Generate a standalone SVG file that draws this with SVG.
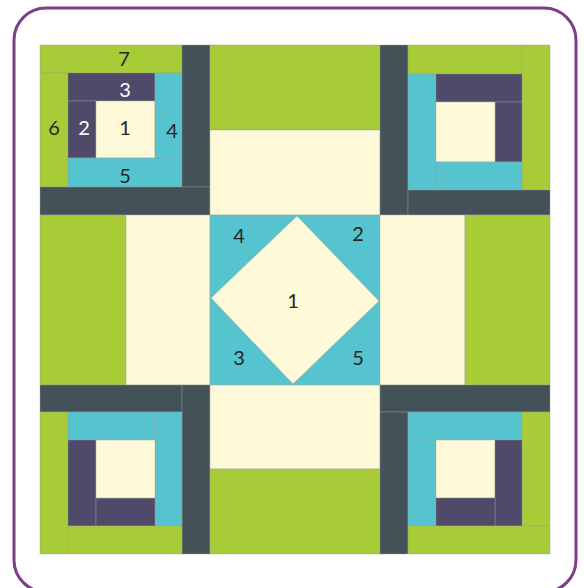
<svg xmlns="http://www.w3.org/2000/svg" width="584" height="588" viewBox="0 0 584 588">
<style>
.g{fill:#a7cc38}
.d{fill:#435159}
.c{fill:#55c4cf}
.p{fill:#4f4a69}
.k{fill:#fef9d8}
.g,.d,.c,.p,.k{stroke:#9aa08e;stroke-width:0.6;stroke-opacity:0.7}
.frame{fill:#ffffff;stroke:#7b3f85;stroke-width:3}
text{font-family:Lato,"Open Sans","Liberation Sans",sans-serif;font-size:20px;text-anchor:middle;dominant-baseline:central;fill:#262626}
text.w{fill:#ffffff}
</style>
<rect id="frame" class="frame" x="14" y="8" width="562" height="584" rx="32"/>
<g id="top-left">
<rect class="g" x="40" y="45" width="142" height="28"/>
<rect class="g" x="40" y="73" width="28" height="114"/>
<rect class="p" x="68" y="73" width="87" height="28"/>
<rect class="p" x="68" y="101" width="28" height="57"/>
<rect class="k" x="96" y="101" width="59" height="57"/>
<rect class="c" x="155" y="73" width="27" height="85"/>
<rect class="c" x="68" y="158" width="114" height="29"/>
<rect class="d" x="182" y="45" width="28" height="142"/>
<rect class="d" x="40" y="187" width="170" height="28"/>
<text x="124" y="58">7</text>
<text class="w" x="125" y="89">3</text>
<text x="54" y="127">6</text>
<text class="w" x="84" y="127">2</text>
<text x="125" y="127">1</text>
<text x="172" y="130">4</text>
<text x="125" y="175">5</text>
</g>
<g id="top-middle">
<rect class="g" x="210" y="45" width="170" height="85"/>
<rect class="k" x="210" y="130" width="170" height="85"/>
</g>
<g id="top-right">
<rect class="d" x="380" y="45" width="28" height="170"/>
<rect class="g" x="408" y="45" width="114" height="29"/>
<rect class="g" x="522" y="45" width="28" height="145"/>
<rect class="c" x="408" y="74" width="28" height="116"/>
<rect class="p" x="436" y="74" width="86" height="28"/>
<rect class="p" x="495" y="102" width="27" height="60"/>
<rect class="k" x="436" y="102" width="59" height="60"/>
<rect class="c" x="436" y="162" width="86" height="28"/>
<rect class="d" x="408" y="190" width="142" height="25"/>
</g>
<g id="middle-left">
<rect class="g" x="40" y="215" width="86" height="170"/>
<rect class="k" x="126" y="215" width="84" height="170"/>
</g>
<g id="center">
<rect class="c" x="210" y="215" width="170" height="170"/>
<polygon class="k" points="297,216 379,301 293,384 211,298"/>
<text x="239" y="235">4</text>
<text x="358" y="233">2</text>
<text x="293" y="300">1</text>
<text x="239" y="357">3</text>
<text x="358" y="357">5</text>
</g>
<g id="middle-right">
<rect class="k" x="380" y="215" width="85" height="170"/>
<rect class="g" x="465" y="215" width="85" height="170"/>
</g>
<g id="bottom-left">
<rect class="d" x="40" y="385" width="142" height="27"/>
<rect class="d" x="182" y="385" width="28" height="169"/>
<rect class="g" x="40" y="412" width="28" height="142"/>
<rect class="c" x="68" y="412" width="87" height="28"/>
<rect class="c" x="155" y="412" width="27" height="114"/>
<rect class="p" x="68" y="440" width="28" height="86"/>
<rect class="p" x="96" y="498" width="59" height="28"/>
<rect class="k" x="96" y="440" width="59" height="58"/>
<rect class="g" x="68" y="526" width="114" height="28"/>
</g>
<g id="bottom-middle">
<rect class="k" x="210" y="385" width="170" height="84"/>
<rect class="g" x="210" y="469" width="170" height="85"/>
</g>
<g id="bottom-right">
<rect class="d" x="380" y="385" width="170" height="27"/>
<rect class="d" x="380" y="412" width="28" height="142"/>
<rect class="c" x="408" y="412" width="114" height="28"/>
<rect class="g" x="522" y="412" width="28" height="114"/>
<rect class="c" x="408" y="440" width="28" height="86"/>
<rect class="k" x="436" y="440" width="59" height="58"/>
<rect class="p" x="495" y="440" width="27" height="86"/>
<rect class="p" x="436" y="498" width="59" height="28"/>
<rect class="g" x="408" y="526" width="142" height="28"/>
</g>
<g id="connectors"></g>
</svg>
